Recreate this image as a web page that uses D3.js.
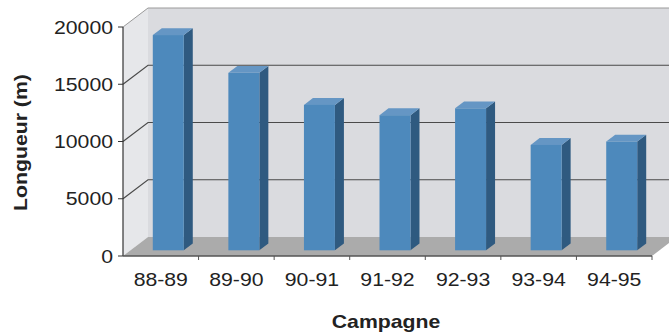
<!DOCTYPE html>
<html>
<head>
<meta charset="utf-8">
<script src="https://cdn.jsdelivr.net/npm/d3@7"></script>
<style>
  html, body { margin: 0; padding: 0; background: #fff; }
  svg { display: block; font-family: 'Liberation Sans', Arial, sans-serif; }
</style>
</head>
<body>
<svg width="669" height="336"></svg>
<script>
var campagnes = ['88-89', '89-90', '90-91', '91-92', '92-93', '93-94', '94-95']
var longueurs = [18800, 15500, 12700, 11800, 12400, 9200, 9500]
var yTicks = [0, 5000, 10000, 15000, 20000]

var svg = d3.select('svg')

// depth of the 3d box
var dx = 25
var dy = -19
var stretch = 1.18

var x = d3.scaleBand().domain(campagnes).range([123, 652]).padding(0)
var y = d3.scaleLinear().domain([0, 20000]).range([256, 27])

var y0 = y(0)
var yTop = y(20000)
var xl = x.range()[0]
var xr = x.range()[1]

function pts(arr) {
  return arr.map(p => p.join(',')).join(' ')
}

// back wall
svg.append('polygon')
  .attr('points', pts([[xl + dx, yTop + dy], [xr + dx, yTop + dy], [xr + dx, y0 + dy], [xl + dx, y0 + dy]]))
  .attr('fill', '#dadbdf')

// left wall
svg.append('polygon')
  .attr('points', pts([[xl, yTop], [xl + dx, yTop + dy], [xl + dx, y0 + dy], [xl, y0]]))
  .attr('fill', '#e6e7ea')

// floor
svg.append('polygon')
  .attr('points', pts([[xl, y0], [xl + dx, y0 + dy], [xr + dx, y0 + dy], [xr, y0]]))
  .attr('fill', '#ababab')

// top edges of the walls
svg.append('path')
  .attr('d', 'M' + xl + ',' + yTop + 'L' + (xl + dx) + ',' + (yTop + dy) + 'L' + (xr + dx) + ',' + (yTop + dy))
  .attr('fill', 'none')
  .attr('stroke', '#9a9a9a')
  .attr('stroke-width', 1)

// gridlines
yTicks.filter(t => t > 0 && t < 20000).forEach(t => {
  svg.append('path')
    .attr('d', 'M' + xl + ',' + y(t) + 'L' + (xl + dx) + ',' + (y(t) + dy) + 'L' + (xr + dx) + ',' + (y(t) + dy))
    .attr('fill', 'none')
    .attr('stroke', '#4a4a4a')
    .attr('stroke-width', 1.2)
})

// bars
var bw = x.bandwidth() * 0.41
var f0 = 0.3
var f1 = 0.66
var ox0 = dx * f0, oy0 = dy * f0
var ox1 = dx * f1, oy1 = dy * f1

campagnes.forEach((c, i) => {
  var bx0 = x(c) + (x.bandwidth() - bw) / 2
  var bx1 = bx0 + bw
  var by = y(longueurs[i])
  var g = svg.append('g')
  // side
  g.append('polygon')
    .attr('points', pts([[bx1 + ox0, by + oy0], [bx1 + ox1, by + oy1], [bx1 + ox1, y0 + oy1], [bx1 + ox0, y0 + oy0]]))
    .attr('fill', '#2f5a80')
  // top
  g.append('polygon')
    .attr('points', pts([[bx0 + ox0, by + oy0], [bx1 + ox0, by + oy0], [bx1 + ox1, by + oy1], [bx0 + ox1, by + oy1]]))
    .attr('fill', '#6596c4')
  // front
  g.append('rect')
    .attr('x', bx0 + ox0)
    .attr('y', by + oy0)
    .attr('width', bw)
    .attr('height', y0 - by)
    .attr('fill', '#4d89bc')
})

// y axis
svg.append('line')
  .attr('x1', xl).attr('x2', xl)
  .attr('y1', yTop).attr('y2', y0)
  .attr('stroke', '#333')
  .attr('stroke-width', 1.2)

yTicks.forEach(t => {
  svg.append('line')
    .attr('x1', xl - 5).attr('x2', xl)
    .attr('y1', y(t)).attr('y2', y(t))
    .attr('stroke', '#333')
  svg.append('text')
    .attr('transform', 'translate(113,' + (y(t) + 6.5) + ') scale(' + stretch + ',1)')
    .attr('text-anchor', 'end')
    .attr('font-size', 18)
    .attr('fill', '#222')
    .text(d3.format('d')(t))
})

// x axis
svg.append('line')
  .attr('x1', xl).attr('x2', xr)
  .attr('y1', y0).attr('y2', y0)
  .attr('stroke', '#555')
  .attr('stroke-width', 1.5)

campagnes.forEach(c => {
  svg.append('line')
    .attr('x1', x(c) + x.bandwidth()).attr('x2', x(c) + x.bandwidth())
    .attr('y1', y0).attr('y2', y0 + 4)
    .attr('stroke', '#555')
  svg.append('text')
    .attr('transform', 'translate(' + (x(c) + x.bandwidth() / 2) + ',285.5) scale(' + stretch + ',1)')
    .attr('text-anchor', 'middle')
    .attr('font-size', 18)
    .attr('fill', '#222')
    .text(c)
})

// axis titles
svg.append('text')
  .attr('transform', 'translate(386,328) scale(' + stretch + ',1)')
  .attr('text-anchor', 'middle')
  .attr('font-size', 18)
  .attr('font-weight', 'bold')
  .attr('fill', '#222')
  .text('Campagne')

svg.append('text')
  .attr('transform', 'translate(27,142.5) rotate(-90) scale(' + stretch + ',1)')
  .attr('text-anchor', 'middle')
  .attr('font-size', 18)
  .attr('font-weight', 'bold')
  .attr('fill', '#222')
  .text('Longueur (m)')
</script>
</body>
</html>
